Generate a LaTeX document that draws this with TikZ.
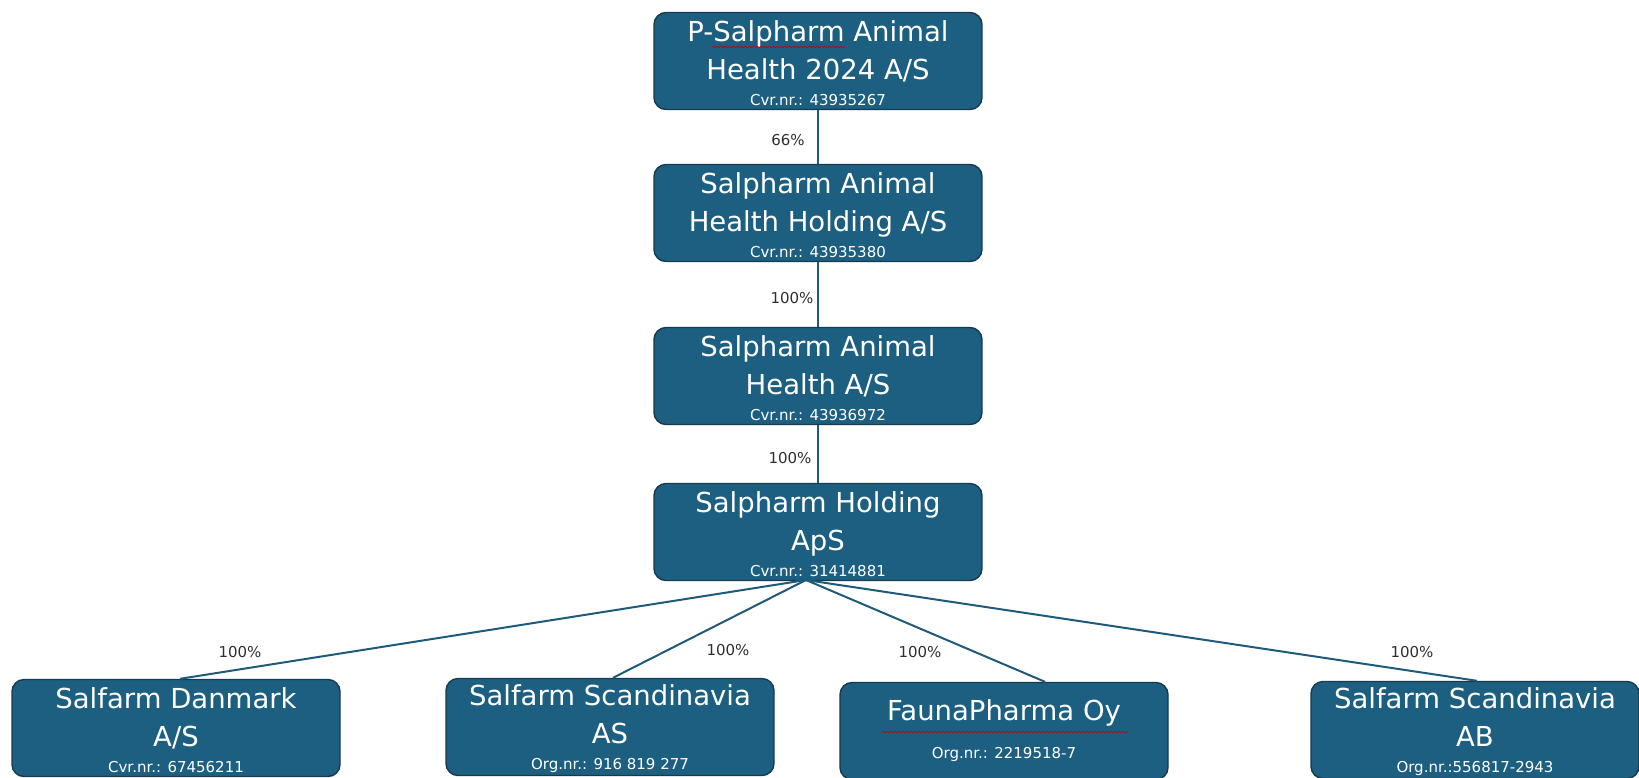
\documentclass[tikz,border=0pt]{standalone}
\usepackage{fontspec}
\setmainfont{DejaVu Sans}
\usepackage{tikz}
\usetikzlibrary{decorations.pathmorphing}
\definecolor{boxfill}{HTML}{1D5F80}
\definecolor{boxedge}{HTML}{163A4E}
\definecolor{linkblue}{HTML}{1E5B7A}
\definecolor{pctgrey}{HTML}{2E2E2E}
\newcommand{\regnr}[1]{{\fontsize{15}{16}\selectfont #1}}

\begin{document}
\begin{tikzpicture}[
    x=1pt, y=-1pt,
    company/.style={rectangle, rounded corners=12pt, draw=boxedge, line width=1.4pt, fill=boxfill, text=white, minimum width=328pt, minimum height=97pt, inner sep=2pt, align=center, font=\fontsize{27.5}{38}\selectfont},
    pct/.style={font=\fontsize{15}{17}\selectfont, text=pctgrey},
    link/.style={draw=linkblue, line width=2pt},
    squiggle/.style={draw=red!80!black, line width=0.7pt, decorate, decoration={snake, amplitude=0.8pt, segment length=4pt}}
]
\useasboundingbox (0,0) rectangle (1639,777);

% the chain of holding companies
\node[company] (ptop) at (818,61) {\rule{0pt}{25pt}P-Salpharm Animal\\Health 2024 A/S\\[-12pt]\regnr{Cvr.nr.: 43935267}};
\node[company] (aholding) at (818,213) {\rule{0pt}{25pt}Salpharm Animal\\Health Holding A/S\\[-12pt]\regnr{Cvr.nr.: 43935380}};
\node[company] (ahealth) at (818,376) {\rule{0pt}{25pt}Salpharm Animal\\Health A/S\\[-12pt]\regnr{Cvr.nr.: 43936972}};
\node[company] (sholding) at (818,532) {\rule{0pt}{25pt}Salpharm Holding\\ApS\\[-12pt]\regnr{Cvr.nr.: 31414881}};

% subsidiaries
\node[company] (dk) at (176,728) {\rule{0pt}{25pt}Salfarm Danmark\\A/S\\[-12pt]\regnr{Cvr.nr.: 67456211}};
\node[company] (no) at (610,727) {\rule{0pt}{25pt}Salfarm Scandinavia\\AS\\[-12pt]\regnr{Org.nr.: 916 819 277}};
\node[company] (fi) at (1004,731) {FaunaPharma Oy\\[0pt]\regnr{Org.nr.: 2219518-7}};
\node[company] (se) at (1475,730) {\rule{0pt}{25pt}Salfarm Scandinavia\\AB\\[-12pt]\regnr{Org.nr.:556817-2943}};

\coordinate (fork) at (806,580);

\draw[link] (ptop) -- (aholding);
\draw[link] (aholding) -- (ahealth);
\draw[link] (ahealth) -- (sholding);
\draw[link] (fork) -- ([xshift=4pt]dk.north);
\draw[link] (fork) -- ([xshift=3pt]no.north);
\draw[link] (fork) -- ([xshift=41pt]fi.north);
\draw[link] (fork) -- ([xshift=2pt]se.north);

\node[pct] (p1) at (788,140) {66\%};
\node[pct] (p2) at (792,298) {100\%};
\node[pct] (p3) at (790,458) {100\%};
\node[pct] (p4) at (240,652) {100\%};
\node[pct] (p5) at (728,650) {100\%};
\node[pct] (p6) at (920,652) {100\%};
\node[pct] (p7) at (1412,652) {100\%};

% spell-check marks
\draw[squiggle] (712,47) -- (845,47);
\draw[squiggle] (882,732) -- (1128,732);
\end{tikzpicture}
\end{document}
